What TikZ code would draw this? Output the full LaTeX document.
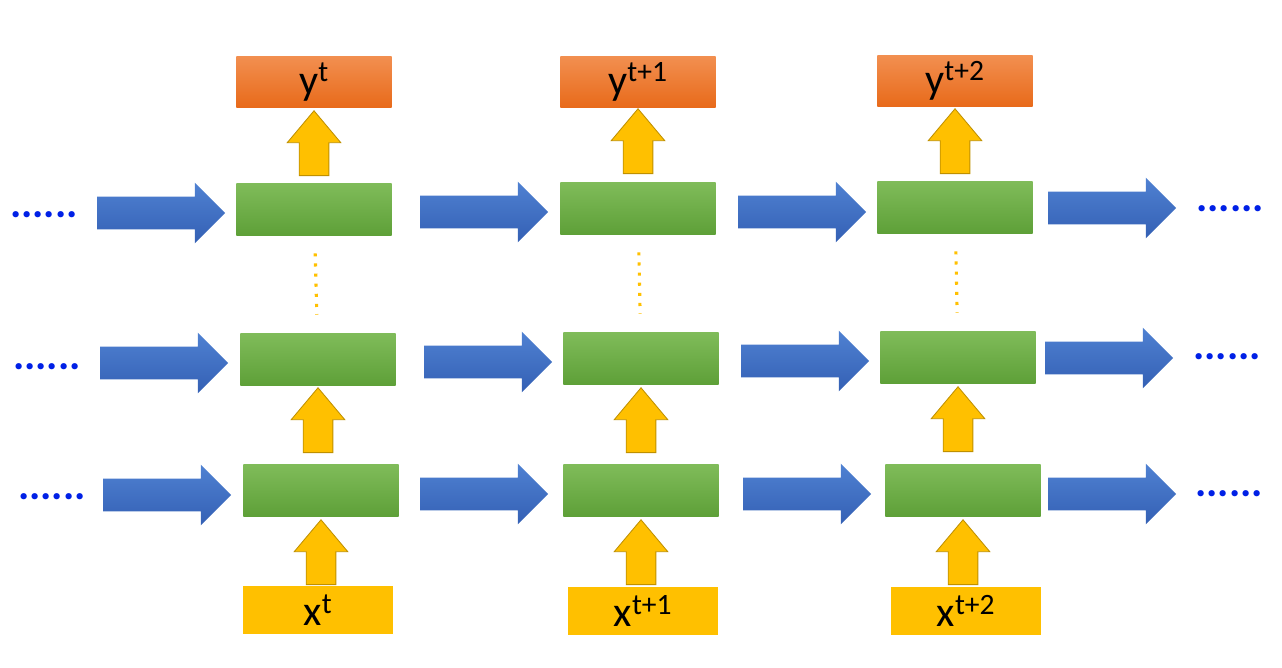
\documentclass[tikz,border=0pt]{standalone}
\usepackage{fontspec}
\setmainfont{Carlito}
\usetikzlibrary{shapes.arrows}

\begin{document}
\begin{tikzpicture}[x=0.025cm, y=-0.025cm]
    \tikzstyle{cell} = [minimum width=3.875cm, minimum height=1.3cm, inner sep=0,
        top color={rgb,255:red,128;green,188;blue,90}, bottom color={rgb,255:red,94;green,160;blue,56}]
    \tikzstyle{outbox} = [minimum width=3.875cm, minimum height=1.28cm, inner sep=0,
        top color={rgb,255:red,242;green,143;blue,80}, bottom color={rgb,255:red,232;green,106;blue,26},
        font=\fontsize{30}{32}\selectfont]
    \tikzstyle{inbox} = [minimum width=3.75cm, minimum height=1.2cm, inner sep=0,
        fill={rgb,255:red,255;green,192;blue,0}, font=\fontsize{30}{32}\selectfont]
    \tikzstyle{harrow} = [single arrow, inner xsep=0, inner ysep=0.4cm, minimum height=3.2cm,
        single arrow head extend=0.35cm, single arrow tip angle=90,
        top color={rgb,255:red,79;green,129;blue,210}, bottom color={rgb,255:red,52;green,96;blue,180}]
    \tikzstyle{varrow} = [single arrow, rotate=90, inner xsep=0, inner ysep=0.36cm, minimum height=1.62cm,
        single arrow head extend=0.3cm, single arrow tip angle=80,
        fill={rgb,255:red,255;green,192;blue,0}, draw={rgb,255:red,191;green,144;blue,0}, line width=0.6pt]
    \tikzstyle{dots} = [text={rgb,255:red,0;green,32;blue,230}, font=\fontsize{30}{30}\selectfont\bfseries]
    \tikzstyle{vdots} = [draw={rgb,255:red,255;green,192;blue,0}, line width=2.2pt, dash pattern=on 2.2pt off 5pt]
    \useasboundingbox (0,0) rectangle (1282,667);

    % outputs
    \node (y0) [outbox] at (314, 82) {y\textsuperscript{t}};
    \node (y1) [outbox] at (638, 82) {y\textsuperscript{t+1}};
    \node (y2) [outbox] at (955, 81) {y\textsuperscript{t+2}};
    % cells
    \node (c30) [cell] at (314, 209) {};
    \node (c31) [cell] at (638, 208) {};
    \node (c32) [cell] at (955, 207) {};
    \node (c20) [cell] at (318, 359) {};
    \node (c21) [cell] at (641, 358) {};
    \node (c22) [cell] at (958, 357) {};
    \node (c10) [cell] at (321, 490) {};
    \node (c11) [cell] at (641, 490) {};
    \node (c12) [cell] at (963, 490) {};
    % inputs
    \node (x0) [inbox] at (318, 610) {x\textsuperscript{t}};
    \node (x1) [inbox] at (643, 611) {x\textsuperscript{t+1}};
    \node (x2) [inbox] at (966, 611) {x\textsuperscript{t+2}};
    % vertical arrows
    \foreach \x/\y in {314/152, 638/150, 955/150, 318/429, 641/429, 958/428, 321/561, 641/561, 963/561}
        \node [varrow] at (\x, \y) {};
    % horizontal arrows
    \foreach \x/\y in {153/213, 476/212, 794/212, 1104/208, 156/363, 480/362, 797/361, 1101/358,
                       159/495, 476/494, 799/494, 1104/494}
        \node [harrow] at (\x, \y) {};
    % dots
    \node (l3) [dots] at (44, 215) {......};
    \node (l2) [dots] at (47, 367) {......};
    \node (l1) [dots] at (52, 497) {......};
    \node (r3) [dots] at (1230, 209) {......};
    \node (r2) [dots] at (1227, 357) {......};
    \node (r1) [dots] at (1229, 494) {......};
    \draw [vdots, shorten <=0.45cm, shorten >=0.45cm] (c30) -- (c20);
    \draw [vdots, shorten <=0.45cm, shorten >=0.45cm] (c31) -- (c21);
    \draw [vdots, shorten <=0.45cm, shorten >=0.45cm] (c32) -- (c22);
\end{tikzpicture}
\end{document}
